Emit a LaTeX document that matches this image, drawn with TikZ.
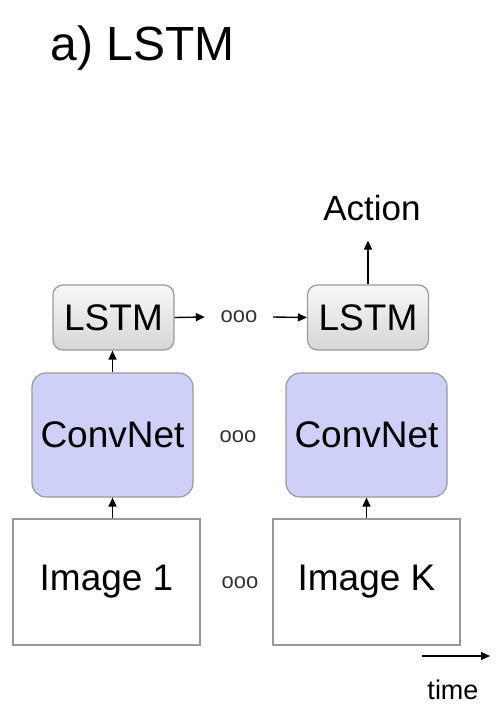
\documentclass[tikz,border=0pt]{standalone}
\usepackage{fontspec}
\setmainfont{Liberation Sans}
\usetikzlibrary{arrows.meta}
\definecolor{boxline}{HTML}{999999}
\definecolor{convfill}{HTML}{CFD0F8}
\tikzset{
  x=1pt, y=1pt,
  arr/.style={line width=1.4pt, -{Triangle[length=9pt,width=8pt]}},
  imgbox/.style={draw=boxline, line width=1.2pt, minimum width=187pt, minimum height=126pt, inner sep=0, font=\fontsize{37}{40}\selectfont},
  convbox/.style={draw=boxline, fill=convfill, line width=1.2pt, rounded corners=14pt, minimum width=161pt, minimum height=124pt, inner sep=0, font=\fontsize{37}{40}\selectfont},
  lstmbox/.style={draw=boxline, top color=gray!6, bottom color=gray!32, line width=1.2pt, rounded corners=10pt, minimum width=121pt, minimum height=65pt, inner sep=0, font=\fontsize{37}{40}\selectfont},
  dotsnode/.style={inner sep=0, font=\fontsize{22}{24}\selectfont, text=black!80},
}
\begin{document}
\begin{tikzpicture}
\useasboundingbox (0,0) rectangle (497,-721);
\node[anchor=base, inner sep=0, font=\fontsize{48}{52}\selectfont] (title) at (143,-60) {a) LSTM};

\node[imgbox] (img1) at (106.5,-582) {Image 1};
\node[imgbox] (imgK) at (366.5,-582) {Image K};
\node[convbox] (conv1) at (112.5,-435) {ConvNet};
\node[convbox] (conv2) at (366.5,-435) {ConvNet};
\node[lstmbox] (lstm1) at (113.5,-317.5) {LSTM};
\node[lstmbox] (lstm2) at (368,-317.5) {LSTM};

\node[dotsnode, minimum width=68pt] (d1) at (239,-317) {ooo};
\node[dotsnode] (d2) at (238,-437) {ooo};
\node[dotsnode] (d3) at (240,-583) {ooo};

\node[anchor=base, inner xsep=0, inner ysep=20pt, font=\fontsize{35}{38}\selectfont] (act) at (372,-220) {Action};

\draw[arr] (img1.north -| conv1) -- (conv1.south);
\draw[arr] (imgK.north) -- (conv2.south);
\draw[arr] (conv1.north) -- (conv1.north |- lstm1.south);
\draw[arr] (lstm1.east) -- (d1.west);
\draw[arr] (d1.east) -- (lstm2.west);
\draw[arr] (lstm2.north) -- (lstm2.north |- act.south);

\coordinate (t0) at (422,-656);
\coordinate (t1) at (490,-656);
\draw[arr] (t0) -- (t1);
\node[font=\fontsize{27}{30}\selectfont, inner sep=0] (time) at (453,-690) {time};
\end{tikzpicture}
\end{document}
